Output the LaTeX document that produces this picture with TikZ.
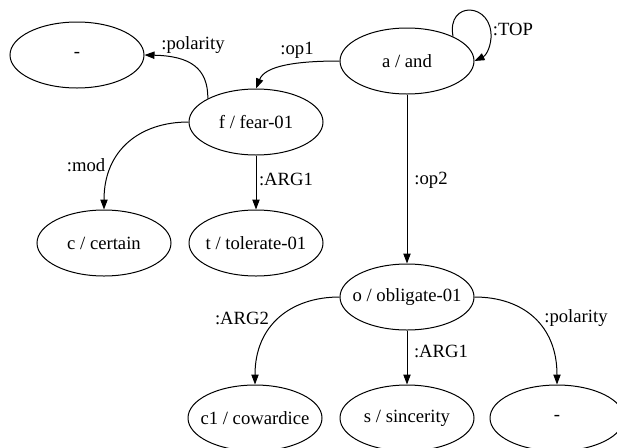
\documentclass[tikz,border=0pt]{standalone}
\usepackage{fontspec}
\setmainfont{Liberation Serif}
\usetikzlibrary{shapes.geometric,arrows.meta}
\newcommand{\ctext}[1]{\makebox[0pt]{#1}}
\tikzset{
  amr/.style={ellipse, draw, line width=0.75pt, minimum width=100.5pt, minimum height=49.5pt, inner sep=0pt,
              font=\fontsize{14}{16.8}\selectfont},
  rel/.style={inner sep=0pt, font=\fontsize{14}{16.8}\selectfont},
  edge/.style={draw, line width=0.75pt, -{Triangle[length=7.5pt,width=5.5pt]}}
}
\begin{document}
\begin{tikzpicture}[x=0.75pt,y=-0.75pt]
  \useasboundingbox (0,0) rectangle (617,447);
  % concept nodes
  \node[amr] (neg1) at (77,55)   {\ctext{-}};
  \node[amr] (f)    at (256,122) {\ctext{f / fear-01}};
  \node[amr] (a)    at (407,61)  {\ctext{a / and}};
  \node[amr] (c)    at (104,243) {\ctext{c / certain}};
  \node[amr] (t)    at (256,243) {\ctext{t / tolerate-01}};
  \node[amr] (o)    at (407,297) {\ctext{o / obligate-01}};
  \node[amr] (c1)   at (255,418) {\ctext{c1 / cowardice}};
  \node[amr] (s)    at (407,418) {\ctext{s / sincerity}};
  \node[amr] (neg2) at (557,418) {\ctext{-}};
  % relations
  \path[edge] (a.28) .. controls (446,0) and (493,2) .. (491,38)
              .. controls (490,50) and (485,56) .. (a.east);
  \path[edge] (a.west) .. controls (295,61) and (265,66) .. (f.north);
  \path[edge] (f.154) .. controls (208,68) and (190,56) .. (neg1.east);
  \path[edge] (a.south) -- (o.north);
  \path[edge] (f.west) .. controls (140,122) and (104,150) .. (c.north);
  \path[edge] (f.south) -- (t.north);
  \path[edge] (o.west) .. controls (291,297) and (255,325) .. (c1.north);
  \path[edge] (o.south) -- (s.north);
  \path[edge] (o.east) .. controls (523,297) and (557,325) .. (neg2.north);
  % relation labels
  \node[rel] (lTop)  at (513,29)  {:TOP};
  \node[rel] (lOp1)  at (297,50)  {:op1};
  \node[rel] (lPol1) at (193,45)  {:polarity};
  \node[rel] (lOp2)  at (431,180) {:op2};
  \node[rel] (lMod)  at (86,165)  {:mod};
  \node[rel] (lArgA) at (286,179) {:ARG1};
  \node[rel] (lArgB) at (242,318) {:ARG2};
  \node[rel] (lArgC) at (441,351) {:ARG1};
  \node[rel] (lPol2) at (576,318) {:polarity};
\end{tikzpicture}
\end{document}
